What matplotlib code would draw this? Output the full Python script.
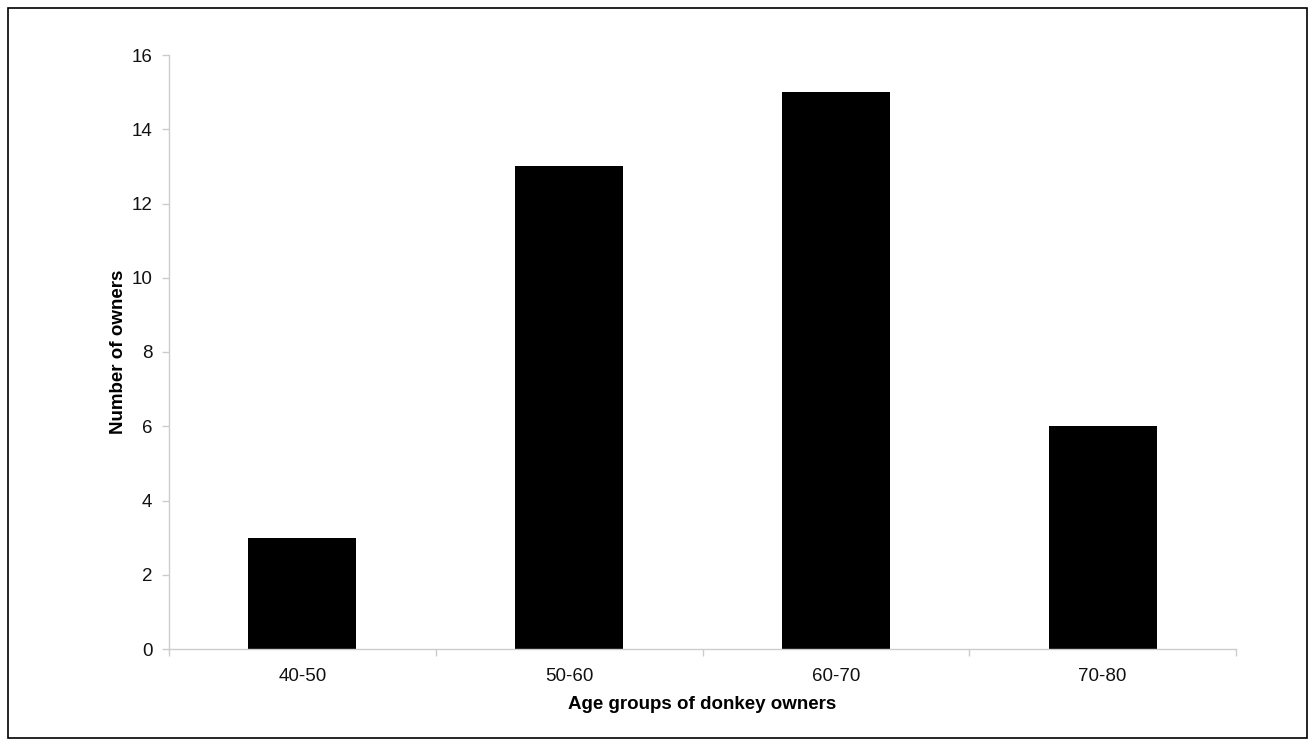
import matplotlib
matplotlib.use("Agg")
import matplotlib.pyplot as plt
from matplotlib.patches import Rectangle

groups = ["40-50", "50-60", "60-70", "70-80"]
owners = [3, 13, 15, 6]

plt.rcParams["font.family"] = ["Liberation Sans", "DejaVu Sans"]

fig = plt.figure(figsize=(13.15, 7.46), dpi=100)
ax = fig.add_axes([169 / 1315, 1 - 649 / 746, (1236 - 169) / 1315, (649 - 55) / 746])

pos = list(range(len(groups)))
ax.bar(pos, owners, width=0.405, color="black")

ax.set_xlim(-0.5, len(groups) - 0.5)
ax.set_ylim(0, 16)
ax.set_yticks(range(0, 17, 2))
ax.set_xticks(pos)
ax.set_xticklabels(groups)
ax.set_xticks([p - 0.5 for p in range(len(groups) + 1)], minor=True)
ax.tick_params(axis="x", which="major", length=0, pad=14, labelsize=13.5, labelcolor="#111111")
ax.tick_params(axis="x", which="minor", length=5, color="#cccccc", width=1)
ax.tick_params(axis="y", length=5, color="#cccccc", width=1, labelsize=13.5, pad=7,
               labelcolor="#111111")

for side in ("top", "right"):
    ax.spines[side].set_visible(False)
for side in ("left", "bottom"):
    ax.spines[side].set_color("#cccccc")
    ax.spines[side].set_linewidth(1)

ax.set_xlabel("Age groups of donkey owners", fontsize=13.5, fontweight="bold", labelpad=7.5)
ax.set_ylabel("Number of owners", fontsize=13.5, fontweight="bold", labelpad=3)

fig.add_artist(Rectangle((8 / 1315, 8 / 746), 1 - 16 / 1315, 1 - 16 / 746,
                         transform=fig.transFigure, fill=False,
                         edgecolor="black", linewidth=1.2))

fig.savefig("out.png", dpi=100)
